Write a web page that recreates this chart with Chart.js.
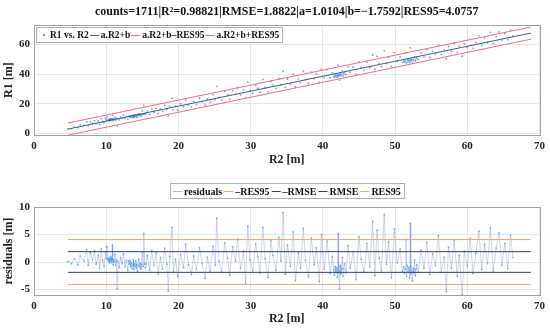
<!DOCTYPE html>
<html>
<head>
<meta charset="utf-8">
<script src="https://cdn.jsdelivr.net/npm/chart.js@4.4.0/dist/chart.umd.min.js"></script>
<style>
html, body { margin: 0; padding: 0; background: #fff; }
#wrap { position: relative; width: 550px; height: 329px; overflow: hidden; }
#top { position: absolute; left: 0; top: 0; }
#bot { position: absolute; left: 0; top: 164px; }
</style>
</head>
<body>
<div id="wrap">
  <canvas id="top" width="550" height="170"></canvas>
  <canvas id="bot" width="550" height="165"></canvas>
</div>
<script>
// fit results (from the title)
const statCounts = 1711
const statR2 = '0.98821'
const statRMSE = 1.8822
const fitA = 1.0104
const fitB = -1.7592
const statRES95 = 4.0757

// R2 values of the sample (sorted) and their residuals
const r2Vals = [
    4.7, 5.2, 5.6, 6.1, 6.4, 6.9, 7.3, 7.5, 7.8, 8.1,
    8.4, 8.6, 8.9, 9.1, 9.3, 9.5, 9.7, 9.9, 10.0, 10.1,
    10.2, 10.3, 10.35, 10.4, 10.45, 10.5, 10.55, 10.6, 10.65, 10.7,
    10.75, 10.8, 10.85, 10.9, 10.95, 11.0, 11.1, 11.2, 11.3, 11.4,
    11.5, 11.6, 11.8, 12.0, 12.2, 12.4, 12.6, 12.8, 13.0, 13.1,
    13.2, 13.3, 13.4, 13.5, 13.6, 13.7, 13.75, 13.8, 13.85, 13.9,
    14.0, 14.1, 14.15, 14.2, 14.3, 14.4, 14.5, 14.6, 14.7, 14.8,
    14.9, 15.0, 15.1, 15.2, 15.3, 15.4, 15.5, 15.7, 16.0, 16.3,
    16.6, 16.9, 17.2, 17.5, 17.8, 18.1, 18.4, 18.6, 18.8, 19.1,
    19.3, 19.6, 19.9, 20.3, 20.7, 21.0, 21.4, 21.8, 22.1, 22.5,
    22.9, 23.3, 23.7, 24.0, 24.4, 24.8, 25.1, 25.3, 25.6, 26.0,
    26.4, 26.8, 27.1, 27.5, 27.9, 28.2, 28.6, 29.0, 29.3, 29.6,
    29.9, 30.3, 30.7, 31.0, 31.3, 31.7, 32.0, 32.4, 32.8, 33.1,
    33.5, 33.9, 34.2, 34.5, 34.8, 35.1, 35.5, 35.9, 36.2, 36.6,
    36.9, 37.3, 37.6, 38.0, 38.4, 38.8, 39.1, 39.5, 39.8, 40.2,
    40.6, 41.0, 41.3, 41.5, 41.6, 41.7, 41.8, 41.9, 42.0, 42.05,
    42.1, 42.15, 42.2, 42.3, 42.35, 42.4, 42.5, 42.6, 42.7, 42.8,
    42.9, 43.0, 43.2, 43.5, 43.8, 44.2, 44.6, 45.0, 45.3, 45.7,
    46.1, 46.5, 46.9, 47.2, 47.5, 47.8, 48.1, 48.5, 48.8, 49.1,
    49.5, 49.9, 50.3, 50.7, 51.0, 51.2, 51.3, 51.4, 51.5, 51.6,
    51.7, 51.8, 51.9, 52.0, 52.05, 52.1, 52.15, 52.2, 52.3, 52.4,
    52.5, 52.6, 52.7, 52.8, 52.9, 53.0, 53.2, 53.6, 54.0, 54.4,
    54.8, 55.2, 55.6, 56.0, 56.4, 56.8, 57.1, 57.4, 57.8, 58.2,
    58.6, 58.9, 59.3, 59.6, 60.0, 60.4, 60.8, 61.2, 61.6, 62.0,
    62.4, 62.8, 63.2, 63.6, 64.0, 64.4, 64.8, 65.2, 65.6, 66.0, 66.3
]
const resVals = [
    0.1, -0.3, 0.6, -0.5, 1.1, 0.2, 2.3, -0.6, 1.7, 0.4,
    2.0, -0.4, 1.3, -1.2, 2.4, 0.3, -0.8, 1.9, 0.6, 2.8,
    0.5, 0.1, 0.8, 0.3, -0.2, 0.6, 0.2, 1.0, 0.4, -0.1,
    0.7, 0.3, 3.1, 0.2, -0.5, 0.5, 0.0, 1.4, -0.6, 0.4,
    -4.9, 0.2, -1.0, 0.8, -0.3, 1.5, -0.8, 0.3, -1.6, 0.2,
    -0.4, 0.3, -0.9, -0.2, -1.2, -0.5, 0.4, -0.7, -1.4, -0.3,
    -0.8, 0.2, -1.1, -0.4, -1.7, -0.6, 0.5, -0.9, -0.2, -1.3,
    -0.5, 1.8, -0.8, 5.2, -0.4, -1.0, -0.3, 1.2, -1.5, 2.1,
    -0.6, 1.7, -2.2, 0.8, -1.3, 2.5, -0.4, -5.3, 1.0, 6.3,
    -1.8, 0.5, -2.6, 1.4, -1.0, 3.2, -0.5, -2.3, 1.1, -1.4,
    2.6, -0.3, -3.0, 0.9, -1.7, 2.9, -0.6, 8.0, 0.2, -1.9,
    3.5, 0.7, -2.4, 2.8, 0.1, 4.2, -1.2, 2.0, -3.8, 6.5,
    0.4, -1.6, 3.3, 1.0, -2.0, 6.3, 0.6, -2.8, 3.9, 1.2,
    -1.5, 4.5, 0.2, 9.0, -2.2, 3.1, -0.8, 5.5, -3.4, 1.7,
    -1.1, 6.1, 0.3, -2.7, 4.4, -0.5, 2.6, -3.6, 5.0, -1.3,
    3.8, -2.1, 1.0, -1.4, -2.4, -0.8, -1.9, -1.1, -2.8, -1.5,
    5.2, -2.0, -1.0, -4.9, -1.7, -0.6, -2.2, -1.3, 0.8, -2.6,
    -1.2, -0.3, -2.0, 3.0, -1.1, 1.9, -3.2, 4.6, 0.5, -1.8,
    3.4, -0.9, 7.4, -2.5, 5.8, 0.7, -1.6, 8.6, -0.4, 3.7,
    -2.9, 6.0, -0.2, 2.4, -1.7, -0.9, -2.1, -1.3, 4.1, -2.6,
    -0.6, -1.8, -1.0, -2.9, -1.4, 7.0, -2.2, -0.8, -1.6, -3.4,
    -1.1, -2.0, 0.4, -2.5, -1.3, -0.5, -1.9, 2.2, -1.2, 3.6,
    -2.3, 1.5, -0.7, 4.8, -1.9, 0.9, -5.4, 2.7, -1.1, 3.9,
    -2.6, 1.2, -6.0, 2.0, -0.8, 4.3, -2.1, 1.6, 5.6, -1.4,
    3.2, -0.3, 6.2, -1.7, 2.5, 5.3, -0.6, 3.4, -1.2, 4.9, 0.8
]

// end points of the fit and band lines
const lineX = [4.7, 68.8]
const fitY = [3.0, 67.8]
const lowY = [-1.1, 63.7]
const highY = [7.1, 71.9]

const xTicks = [0, 10, 20, 30, 40, 50, 60, 70]
const r1Ticks = [0, 20, 40, 60]
const resTicks = [-5, 0, 5, 10]

const fontFam = "'Liberation Serif', 'DejaVu Serif', serif"
Chart.defaults.font.family = fontFam
Chart.defaults.font.weight = 'bold'
Chart.defaults.color = '#222'
Chart.defaults.animation = false

const fixTicks = vals => scale => { scale.ticks = vals.map(v => ({value: v})) }

function pts(xs, ys) {
    return xs.map((x, i) => ({x: x, y: ys[i]}))
}

// legend drawn in one row with a box, MATLAB like
function drawLegend(chart, o) {
    const ctx = chart.ctx
    ctx.save()
    ctx.font = 'bold ' + o.size + 'px ' + fontFam
    const items = chart.data.datasets.map(ds => ({text: ds.label, color: ds.legendColor || ds.borderColor, dot: !ds.showLine}))
    const widths = items.map(it => o.symW + o.gap + ctx.measureText(it.text).width)
    const total = widths.reduce((s, w) => s + w, 0) + o.sep * (items.length - 1) + 2 * o.padX
    let left = o.x
    if (o.center) left = (chart.chartArea.left + chart.chartArea.right) / 2 - total / 2
    left = Math.round(left)
    const h = 15
    ctx.fillStyle = '#fff'
    ctx.fillRect(left, o.y, total, h)
    ctx.strokeStyle = '#b0b0b0'
    ctx.lineWidth = 1
    ctx.strokeRect(left + 0.5, o.y + 0.5, Math.round(total), h)
    let x = left + o.padX
    const cy = o.y + h / 2 + 0.5
    items.forEach((it, i) => {
        if (it.dot) {
            ctx.fillStyle = it.color
            ctx.fillRect(Math.round(x + o.symW / 2) - 1, Math.round(cy) - 1, 2, 2)
        } else {
            ctx.strokeStyle = it.color
            ctx.beginPath()
            ctx.moveTo(x, Math.round(cy) + 0.5)
            ctx.lineTo(x + o.symW, Math.round(cy) + 0.5)
            ctx.stroke()
        }
        ctx.fillStyle = '#111'
        ctx.textBaseline = 'middle'
        ctx.fillText(it.text, x + o.symW + o.gap, cy + 1)
        x += widths[i] + o.sep
    })
    ctx.restore()
}

// gray box round the plot area, then the legend
const boxPlugin = {
    id: 'boxes',
    afterDraw(chart, args, opts) {
        const ctx = chart.ctx
        const a = chart.chartArea
        ctx.save()
        ctx.strokeStyle = '#a0a0a0'
        ctx.lineWidth = 1
        ctx.strokeRect(Math.round(a.left) + 0.5, Math.round(a.top) + 0.5,
            Math.round(a.right - a.left), Math.round(a.bottom - a.top))
        ctx.restore()
        drawLegend(chart, opts)
    }
}

function axisX(h) {
    return {
        type: 'linear', min: 0, max: 70,
        afterBuildTicks: fixTicks(xTicks),
        afterFit: s => { s.height = h },
        grid: {color: '#e6e6e6', drawTicks: false},
        border: {display: false},
        ticks: {padding: 5, font: {size: 11}},
        title: {display: true, text: 'R2 [m]', font: {size: 12}, padding: {top: 2, bottom: 3}}
    }
}

function axisY(min, max, ticks, text) {
    return {
        type: 'linear', min: min, max: max,
        afterBuildTicks: fixTicks(ticks),
        afterFit: s => { s.width = 34 },
        grid: {color: '#e6e6e6', drawTicks: false},
        border: {display: false},
        ticks: {padding: 4, font: {size: 11}},
        title: {display: true, text: text, font: {size: 12}, padding: {top: 2, bottom: 2}}
    }
}

// upper panel: R1 vs R2
const topPts = r2Vals.map((x, i) => ({x: x, y: fitA * x + fitB + resVals[i]}))

new Chart(document.getElementById('top').getContext('2d'), {
    type: 'scatter',
    data: {
        datasets: [{
                label: 'R1 vs. R2',
                data: topPts,
                backgroundColor: 'rgba(40,130,210,0.7)',
                borderColor: 'rgba(40,130,210,0.7)',
                legendColor: '#5a9ad6',
                pointRadius: 0.9, pointBorderWidth: 0,
                order: 10
            }, {
                label: 'a.R2+b',
                data: pts(lineX, fitY),
                showLine: true, borderColor: '#4d5b70', borderWidth: 1,
                pointRadius: 0
            }, {
                label: 'a.R2+b\u2013RES95',
                data: pts(lineX, lowY),
                showLine: true, borderColor: '#f26d80', borderWidth: 1,
                pointRadius: 0
            }, {
                label: 'a.R2+b+RES95',
                data: pts(lineX, highY),
                showLine: true, borderColor: '#f26d80', borderWidth: 1,
                pointRadius: 0
            }]
    },
    options: {
        responsive: false,
        layout: {padding: {left: 0, right: 10, top: 0, bottom: 0}},
        scales: {
            x: axisX(35),
            y: axisY(-1, 73, r1Ticks, 'R1 [m]')
        },
        plugins: {
            title: {
                display: true,
                fullSize: false,
                text: 'counts=' + statCounts + '|R\u00b2=' + statR2 + '|RMSE=' + statRMSE +
                        '|a=' + fitA + '|b=\u2212' + Math.abs(fitB) + '|RES95=' + statRES95,
                font: {size: 12, weight: 'bold'},
                color: '#111',
                padding: {top: 5, bottom: 6}
            },
            legend: {display: false},
            tooltip: {enabled: false},
            boxes: {x: 36, y: 27, center: false, size: 9.5, symW: 9, gap: 2, sep: 1, padX: 3}
        }
    },
    plugins: [boxPlugin]
})

// lower panel: residuals
new Chart(document.getElementById('bot').getContext('2d'), {
    type: 'scatter',
    data: {
        datasets: [{
                label: 'residuals',
                data: pts(r2Vals, resVals),
                showLine: true,
                borderColor: 'rgba(70,95,205,0.45)', borderWidth: 0.6,
                legendColor: '#b8bfd0',
                backgroundColor: 'rgba(30,160,230,0.65)',
                pointRadius: 0.9, pointBorderWidth: 0,
                order: 10
            }, {
                label: '\u2013RES95',
                data: pts(lineX, [-statRES95, -statRES95]),
                showLine: true, borderColor: '#f0a27a', borderWidth: 1, pointRadius: 0
            }, {
                label: '\u2013RMSE',
                data: pts(lineX, [-statRMSE, -statRMSE]),
                showLine: true, borderColor: '#34405c', borderWidth: 1, pointRadius: 0
            }, {
                label: 'RMSE',
                data: pts(lineX, [statRMSE, statRMSE]),
                showLine: true, borderColor: '#34405c', borderWidth: 1, pointRadius: 0
            }, {
                label: 'RES95',
                data: pts(lineX, [statRES95, statRES95]),
                showLine: true, borderColor: '#f0a27a', borderWidth: 1, pointRadius: 0
            }]
    },
    options: {
        responsive: false,
        layout: {padding: {left: 0, right: 10, top: 43, bottom: 0}},
        scales: {
            x: axisX(34),
            y: axisY(-6, 10, resTicks, 'residuals [m]')
        },
        plugins: {
            legend: {display: false},
            tooltip: {enabled: false},
            boxes: {x: 0, y: 19, center: true, size: 10, symW: 9, gap: 2, sep: 2, padX: 3}
        }
    },
    plugins: [boxPlugin]
})
</script>
</body>
</html>
